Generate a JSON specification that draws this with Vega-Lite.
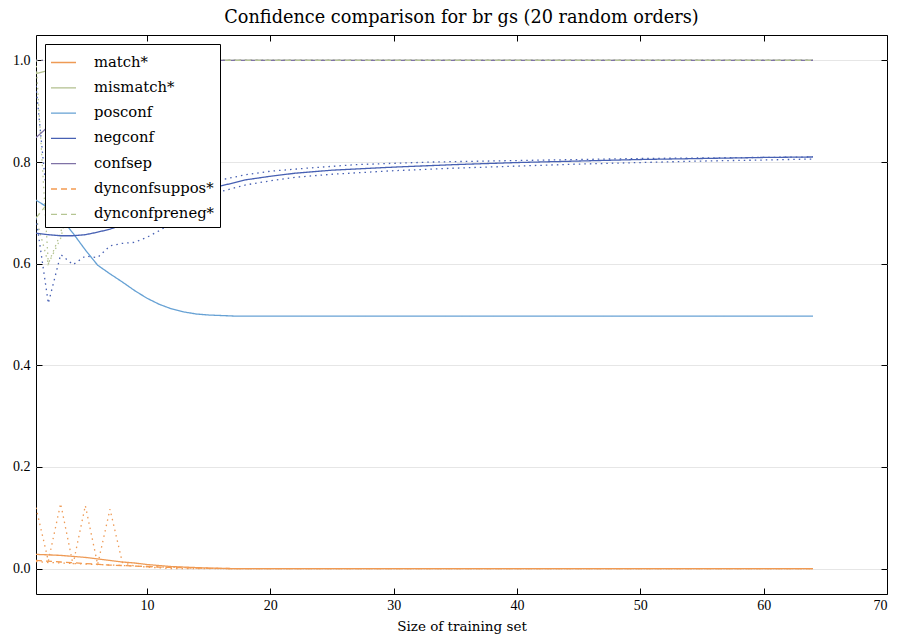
{
  "$schema": "https://vega.github.io/schema/vega-lite/v6.json",
  "autosize": "none",
  "width": 851,
  "height": 559,
  "padding": {"left": 36, "top": 35, "right": 19, "bottom": 50},
  "background": "white",
  "title": {"text": "Confidence comparison for br gs (20 random orders)", "font": "DejaVu Serif", "fontSize": 17.7, "fontWeight": "normal", "color": "black", "anchor": "middle", "offset": 8},
  "config": {
    "view": {"stroke": "black", "strokeWidth": 1},
    "axis": {"labelFont": "Liberation Serif", "labelFontSize": 14, "labelColor": "black", "tickColor": "black", "domain": false, "titleFont": "DejaVu Serif", "titleFontSize": 13.5, "titleFontWeight": "normal", "titleColor": "black"}
  },
  "data": {"values": [
    {"series":"match*","kind":"mean","x":1,"y":0.028},{"series":"match*","kind":"mean","x":2,"y":0.027},{"series":"match*","kind":"mean","x":3,"y":0.026},{"series":"match*","kind":"mean","x":4,"y":0.024},{"series":"match*","kind":"mean","x":5,"y":0.022},{"series":"match*","kind":"mean","x":6,"y":0.019},{"series":"match*","kind":"mean","x":7,"y":0.016},{"series":"match*","kind":"mean","x":8,"y":0.013},{"series":"match*","kind":"mean","x":9,"y":0.011},{"series":"match*","kind":"mean","x":10,"y":0.008},{"series":"match*","kind":"mean","x":11,"y":0.006},{"series":"match*","kind":"mean","x":12,"y":0.004},{"series":"match*","kind":"mean","x":13,"y":0.003},{"series":"match*","kind":"mean","x":14,"y":0.002},{"series":"match*","kind":"mean","x":15,"y":0.001},{"series":"match*","kind":"mean","x":17,"y":0},{"series":"match*","kind":"mean","x":64,"y":0},
    {"series":"match*","kind":"hi","x":1,"y":0.12},{"series":"match*","kind":"hi","x":2,"y":0.015},{"series":"match*","kind":"hi","x":3,"y":0.128},{"series":"match*","kind":"hi","x":4,"y":0.008},{"series":"match*","kind":"hi","x":5,"y":0.124},{"series":"match*","kind":"hi","x":6,"y":0.008},{"series":"match*","kind":"hi","x":7,"y":0.117},{"series":"match*","kind":"hi","x":8,"y":0.012},{"series":"match*","kind":"hi","x":9,"y":0.005},{"series":"match*","kind":"hi","x":10,"y":0.003},{"series":"match*","kind":"hi","x":12,"y":0},{"series":"match*","kind":"hi","x":64,"y":0},
    {"series":"match*","kind":"lo","x":1,"y":0.014},{"series":"match*","kind":"lo","x":2,"y":0.012},{"series":"match*","kind":"lo","x":4,"y":0.01},{"series":"match*","kind":"lo","x":6,"y":0.008},{"series":"match*","kind":"lo","x":8,"y":0.006},{"series":"match*","kind":"lo","x":10,"y":0.004},{"series":"match*","kind":"lo","x":13,"y":0.002},{"series":"match*","kind":"lo","x":16,"y":0},{"series":"match*","kind":"lo","x":64,"y":0},
    {"series":"mismatch*","kind":"mean","x":1,"y":0.974},{"series":"mismatch*","kind":"mean","x":2,"y":0.98},{"series":"mismatch*","kind":"mean","x":3,"y":0.985},{"series":"mismatch*","kind":"mean","x":5,"y":0.992},{"series":"mismatch*","kind":"mean","x":8,"y":0.997},{"series":"mismatch*","kind":"mean","x":12,"y":1},{"series":"mismatch*","kind":"mean","x":64,"y":1},
    {"series":"mismatch*","kind":"hi","x":1,"y":1},{"series":"mismatch*","kind":"hi","x":64,"y":1},
    {"series":"mismatch*","kind":"lo","x":1,"y":0.69},{"series":"mismatch*","kind":"lo","x":2,"y":0.6},{"series":"mismatch*","kind":"lo","x":3,"y":0.66},{"series":"mismatch*","kind":"lo","x":4,"y":0.78},{"series":"mismatch*","kind":"lo","x":5,"y":0.88},{"series":"mismatch*","kind":"lo","x":6,"y":0.94},{"series":"mismatch*","kind":"lo","x":8,"y":0.98},{"series":"mismatch*","kind":"lo","x":10,"y":1},{"series":"mismatch*","kind":"lo","x":64,"y":1},
    {"series":"posconf","kind":"mean","x":1,"y":0.725},{"series":"posconf","kind":"mean","x":2,"y":0.71},{"series":"posconf","kind":"mean","x":3,"y":0.69},{"series":"posconf","kind":"mean","x":4,"y":0.66},{"series":"posconf","kind":"mean","x":5,"y":0.627},{"series":"posconf","kind":"mean","x":6,"y":0.597},{"series":"posconf","kind":"mean","x":7,"y":0.58},{"series":"posconf","kind":"mean","x":8,"y":0.564},{"series":"posconf","kind":"mean","x":9,"y":0.547},{"series":"posconf","kind":"mean","x":10,"y":0.532},{"series":"posconf","kind":"mean","x":11,"y":0.52},{"series":"posconf","kind":"mean","x":12,"y":0.511},{"series":"posconf","kind":"mean","x":13,"y":0.505},{"series":"posconf","kind":"mean","x":14,"y":0.501},{"series":"posconf","kind":"mean","x":15,"y":0.499},{"series":"posconf","kind":"mean","x":16,"y":0.498},{"series":"posconf","kind":"mean","x":17,"y":0.497},{"series":"posconf","kind":"mean","x":64,"y":0.497},
    {"series":"negconf","kind":"mean","x":1,"y":0.66},{"series":"negconf","kind":"mean","x":2,"y":0.657},{"series":"negconf","kind":"mean","x":3,"y":0.655},{"series":"negconf","kind":"mean","x":4,"y":0.655},{"series":"negconf","kind":"mean","x":5,"y":0.657},{"series":"negconf","kind":"mean","x":6,"y":0.662},{"series":"negconf","kind":"mean","x":7,"y":0.668},{"series":"negconf","kind":"mean","x":8,"y":0.676},{"series":"negconf","kind":"mean","x":9,"y":0.685},{"series":"negconf","kind":"mean","x":10,"y":0.695},{"series":"negconf","kind":"mean","x":11,"y":0.705},{"series":"negconf","kind":"mean","x":12,"y":0.715},{"series":"negconf","kind":"mean","x":13,"y":0.726},{"series":"negconf","kind":"mean","x":14,"y":0.736},{"series":"negconf","kind":"mean","x":15,"y":0.745},{"series":"negconf","kind":"mean","x":16,"y":0.753},{"series":"negconf","kind":"mean","x":18,"y":0.765},{"series":"negconf","kind":"mean","x":20,"y":0.772},{"series":"negconf","kind":"mean","x":22,"y":0.778},{"series":"negconf","kind":"mean","x":25,"y":0.784},{"series":"negconf","kind":"mean","x":30,"y":0.79},{"series":"negconf","kind":"mean","x":35,"y":0.795},{"series":"negconf","kind":"mean","x":40,"y":0.799},{"series":"negconf","kind":"mean","x":45,"y":0.802},{"series":"negconf","kind":"mean","x":50,"y":0.805},{"series":"negconf","kind":"mean","x":55,"y":0.807},{"series":"negconf","kind":"mean","x":60,"y":0.809},{"series":"negconf","kind":"mean","x":64,"y":0.81},
    {"series":"negconf","kind":"hi","x":1,"y":0.95},{"series":"negconf","kind":"hi","x":2,"y":0.7},{"series":"negconf","kind":"hi","x":3,"y":0.71},{"series":"negconf","kind":"hi","x":4,"y":0.72},{"series":"negconf","kind":"hi","x":5,"y":0.725},{"series":"negconf","kind":"hi","x":6,"y":0.73},{"series":"negconf","kind":"hi","x":8,"y":0.735},{"series":"negconf","kind":"hi","x":10,"y":0.742},{"series":"negconf","kind":"hi","x":12,"y":0.75},{"series":"negconf","kind":"hi","x":14,"y":0.757},{"series":"negconf","kind":"hi","x":16,"y":0.765},{"series":"negconf","kind":"hi","x":18,"y":0.775},{"series":"negconf","kind":"hi","x":20,"y":0.782},{"series":"negconf","kind":"hi","x":23,"y":0.788},{"series":"negconf","kind":"hi","x":27,"y":0.795},{"series":"negconf","kind":"hi","x":33,"y":0.8},{"series":"negconf","kind":"hi","x":40,"y":0.803},{"series":"negconf","kind":"hi","x":50,"y":0.807},{"series":"negconf","kind":"hi","x":64,"y":0.81},
    {"series":"negconf","kind":"lo","x":1,"y":0.69},{"series":"negconf","kind":"lo","x":2,"y":0.522},{"series":"negconf","kind":"lo","x":3,"y":0.618},{"series":"negconf","kind":"lo","x":4,"y":0.598},{"series":"negconf","kind":"lo","x":5,"y":0.615},{"series":"negconf","kind":"lo","x":6,"y":0.612},{"series":"negconf","kind":"lo","x":7,"y":0.635},{"series":"negconf","kind":"lo","x":8,"y":0.64},{"series":"negconf","kind":"lo","x":9,"y":0.642},{"series":"negconf","kind":"lo","x":10,"y":0.652},{"series":"negconf","kind":"lo","x":11,"y":0.665},{"series":"negconf","kind":"lo","x":12,"y":0.68},{"series":"negconf","kind":"lo","x":13,"y":0.695},{"series":"negconf","kind":"lo","x":14,"y":0.71},{"series":"negconf","kind":"lo","x":15,"y":0.725},{"series":"negconf","kind":"lo","x":16,"y":0.742},{"series":"negconf","kind":"lo","x":18,"y":0.755},{"series":"negconf","kind":"lo","x":20,"y":0.763},{"series":"negconf","kind":"lo","x":22,"y":0.77},{"series":"negconf","kind":"lo","x":25,"y":0.776},{"series":"negconf","kind":"lo","x":30,"y":0.783},{"series":"negconf","kind":"lo","x":35,"y":0.788},{"series":"negconf","kind":"lo","x":40,"y":0.792},{"series":"negconf","kind":"lo","x":45,"y":0.796},{"series":"negconf","kind":"lo","x":50,"y":0.799},{"series":"negconf","kind":"lo","x":55,"y":0.802},{"series":"negconf","kind":"lo","x":60,"y":0.804},{"series":"negconf","kind":"lo","x":64,"y":0.806},
    {"series":"confsep","kind":"mean","x":1,"y":0.848},{"series":"confsep","kind":"mean","x":2,"y":0.87},{"series":"confsep","kind":"mean","x":3,"y":0.9},{"series":"confsep","kind":"mean","x":4,"y":0.93},{"series":"confsep","kind":"mean","x":5,"y":0.95},{"series":"confsep","kind":"mean","x":6,"y":0.965},{"series":"confsep","kind":"mean","x":8,"y":0.98},{"series":"confsep","kind":"mean","x":10,"y":0.99},{"series":"confsep","kind":"mean","x":13,"y":0.997},{"series":"confsep","kind":"mean","x":16,"y":1},{"series":"confsep","kind":"mean","x":64,"y":1},
    {"series":"confsep","kind":"hi","x":1,"y":1},{"series":"confsep","kind":"hi","x":64,"y":1},
    {"series":"dynconfsuppos*","kind":"mean","x":1,"y":0.016},{"series":"dynconfsuppos*","kind":"mean","x":3,"y":0.013},{"series":"dynconfsuppos*","kind":"mean","x":5,"y":0.01},{"series":"dynconfsuppos*","kind":"mean","x":7,"y":0.007},{"series":"dynconfsuppos*","kind":"mean","x":9,"y":0.005},{"series":"dynconfsuppos*","kind":"mean","x":11,"y":0.003},{"series":"dynconfsuppos*","kind":"mean","x":14,"y":0.001},{"series":"dynconfsuppos*","kind":"mean","x":17,"y":0},{"series":"dynconfsuppos*","kind":"mean","x":64,"y":0},
    {"series":"dynconfpreneg*","kind":"mean","x":1,"y":0.69},{"series":"dynconfpreneg*","kind":"mean","x":2,"y":0.72},{"series":"dynconfpreneg*","kind":"mean","x":3,"y":0.77},{"series":"dynconfpreneg*","kind":"mean","x":4,"y":0.82},{"series":"dynconfpreneg*","kind":"mean","x":5,"y":0.87},{"series":"dynconfpreneg*","kind":"mean","x":6,"y":0.91},{"series":"dynconfpreneg*","kind":"mean","x":8,"y":0.96},{"series":"dynconfpreneg*","kind":"mean","x":10,"y":0.985},{"series":"dynconfpreneg*","kind":"mean","x":13,"y":1},{"series":"dynconfpreneg*","kind":"mean","x":64,"y":1},
    {"series":"dynconfpreneg*","kind":"lo","x":1,"y":1},{"series":"dynconfpreneg*","kind":"lo","x":2,"y":0.6},{"series":"dynconfpreneg*","kind":"lo","x":3,"y":0.65},{"series":"dynconfpreneg*","kind":"lo","x":4,"y":0.75},{"series":"dynconfpreneg*","kind":"lo","x":5,"y":0.85},{"series":"dynconfpreneg*","kind":"lo","x":6,"y":0.92},{"series":"dynconfpreneg*","kind":"lo","x":8,"y":0.97},{"series":"dynconfpreneg*","kind":"lo","x":10,"y":0.99},{"series":"dynconfpreneg*","kind":"lo","x":13,"y":1},{"series":"dynconfpreneg*","kind":"lo","x":64,"y":1}
  ]},
  "resolve": {"axis": {"x": "independent", "y": "independent"}},
  "layer": [
    {
      "transform": [{"filter": "datum.kind != 'mean'"}],
      "mark": {"type": "line", "strokeWidth": 1.3, "strokeDash": [1.5, 4], "clip": true},
      "encoding": {
        "x": {"field": "x", "type": "quantitative", "scale": {"domain": [1, 70], "nice": false, "zero": false},
              "axis": {"orient": "top", "values": [10, 20, 30, 40, 50, 60, 70], "labels": false, "title": null, "grid": false, "tickSize": -6}},
        "y": {"field": "y", "type": "quantitative", "scale": {"domain": [-0.05, 1.05], "nice": false, "zero": false},
              "axis": {"orient": "right", "values": [0, 0.2, 0.4, 0.6, 0.8, 1.0], "labels": false, "title": null, "grid": false, "tickSize": -6}},
        "color": {"field": "series", "type": "nominal"},
        "detail": {"field": "kind"}
      }
    },
    {
      "transform": [{"filter": "datum.kind == 'mean'"}],
      "mark": {"type": "line", "strokeWidth": 1.3, "clip": true},
      "encoding": {
        "x": {"field": "x", "type": "quantitative", "title": "Size of training set",
              "axis": {"orient": "bottom", "values": [10, 20, 30, 40, 50, 60, 70], "grid": false, "tickSize": -6, "labelPadding": 10, "titleY": 25}},
        "y": {"field": "y", "type": "quantitative",
              "axis": {"orient": "left", "values": [0, 0.2, 0.4, 0.6, 0.8, 1.0], "format": ".1f", "title": null, "grid": true, "gridColor": "#e6e6e6", "tickSize": -6, "labelPadding": 12}},
        "color": {"field": "series", "type": "nominal",
                  "scale": {"domain": ["match*", "mismatch*", "posconf", "negconf", "confsep", "dynconfsuppos*", "dynconfpreneg*"],
                            "range": ["#ee9a55", "#b2c08e", "#66a1d4", "#4760b3", "#7f72a6", "#f39a50", "#b5c592"]},
                  "legend": {"title": null, "orient": "top-left", "offset": 9, "symbolType": "stroke", "symbolSize": 625, "symbolStrokeWidth": 1.3,
                             "labelFont": "DejaVu Serif", "labelFontSize": 14.8, "labelColor": "black", "labelOffset": 17, "rowPadding": 4.3,
                             "strokeColor": "black", "fillColor": "white", "padding": 5, "cornerRadius": 0}},
        "strokeDash": {"field": "series", "type": "nominal",
                       "scale": {"domain": ["match*", "mismatch*", "posconf", "negconf", "confsep", "dynconfsuppos*", "dynconfpreneg*"],
                                 "range": [[1, 0], [1, 0], [1, 0], [1, 0], [1, 0], [6, 4], [6, 4]]},
                       "legend": {"title": null}}
      }
    }
  ]
}
